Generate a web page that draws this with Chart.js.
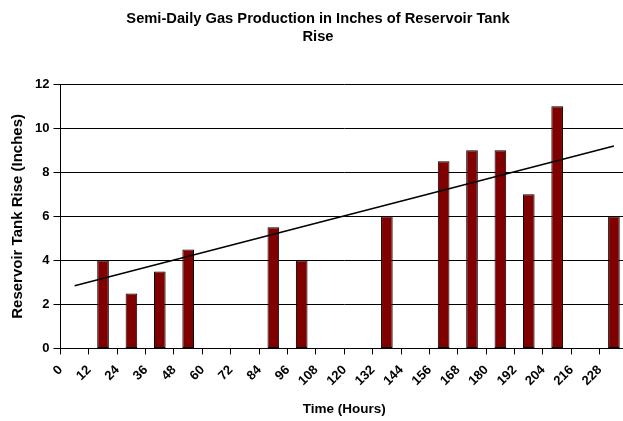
<!DOCTYPE html>
<html>
<head>
<meta charset="utf-8">
<script src="https://cdn.jsdelivr.net/npm/chart.js@4"></script>
<style>
  body { margin: 0; overflow: hidden; background: #fff; }
  #wrap { width: 633px; height: 421px; }
</style>
</head>
<body>
<div id="wrap"><canvas id="myChart"></canvas></div>
<script>
// categories (hours)
const hours = ['0', '12', '24', '36', '48', '60', '72', '84', '96', '108',
  '120', '132', '144', '156', '168', '180', '192', '204', '216', '228'];
// tank rise in inches, null = no reading
const rise = [null, 4, 2.5, 3.5, 4.5, null, null, 5.5, 4, null,
  null, 6, null, 8.5, 9, 9, 7, 11, null, 6];
// linear trend, end points
const trend = [2.85, null, null, null, null, null, null, null, null, null,
  null, null, null, null, null, null, null, null, null, 9.2];
const yTicks = [0, 2, 4, 6, 8, 10, 12];

document.addEventListener('DOMContentLoaded', () => {
  const ctx = document.getElementById('myChart').getContext('2d');
  Chart.defaults.font.family = 'Liberation Sans, Arial, sans-serif';
  Chart.defaults.color = '#000';

  new Chart(ctx, {
    type: 'bar',
    data: {
      labels: hours,
      datasets: [{
        type: 'line',
        data: trend,
        borderColor: '#000',
        borderWidth: 1.5,
        pointRadius: 0,
        spanGaps: true,
        fill: false
      }, {
        data: rise,
        backgroundColor: '#800000',
        borderColor: '#000',
        borderWidth: 1,
        borderSkipped: false,
        categoryPercentage: 1,
        barPercentage: 0.41
      }]
    },
    options: {
      responsive: true,
      maintainAspectRatio: false,
      animation: false,
      layout: { padding: { left: 5, right: 2, top: 4, bottom: 4 } },
      plugins: {
        legend: { display: false },
        tooltip: { enabled: false },
        title: {
          display: true,
          text: ['Semi-Daily Gas Production in Inches of Reservoir Tank', 'Rise'],
          font: { size: 14.7, weight: 'bold' },
          lineHeight: 1.4,
          padding: { top: 6, bottom: 39 }
        }
      },
      scales: {
        x: {
          offset: true,
          grid: {
            offset: true,
            drawOnChartArea: false,
            color: '#000',
            tickLength: 6
          },
          border: { color: '#000', width: 1 },
          ticks: {
            font: { size: 13, weight: 'bold' },
            maxRotation: 45,
            minRotation: 45,
            labelOffset: -14,
            padding: 8,
            autoSkip: false
          },
          title: {
            display: true,
            text: 'Time (Hours)',
            font: { size: 13.5, weight: 'bold' },
            padding: { top: 4, bottom: 0 }
          }
        },
        y: {
          min: 0,
          max: 12,
          afterBuildTicks: axis => {
            axis.ticks = yTicks.map(v => ({ value: v }));
          },
          grid: {
            color: '#000',
            tickLength: 7
          },
          border: { color: '#000', width: 1 },
          ticks: {
            font: { size: 13, weight: 'bold' },
            padding: 4
          },
          title: {
            display: true,
            text: 'Reservoir Tank Rise (Inches)',
            font: { size: 15, weight: 'bold' },
            padding: { top: 4, bottom: 4 }
          }
        }
      }
    }
  });
});
</script>
</body>
</html>
